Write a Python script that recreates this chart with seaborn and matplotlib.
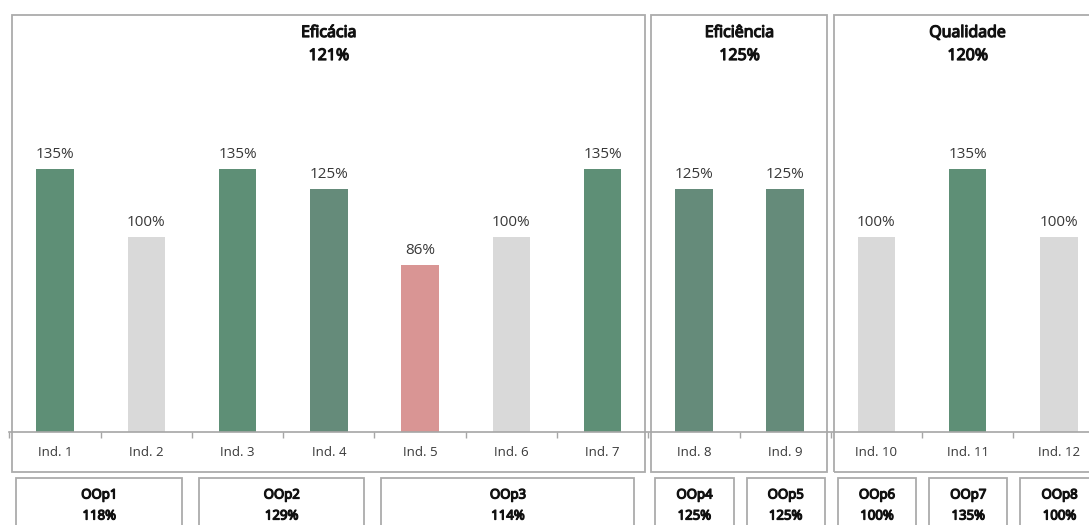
import matplotlib
matplotlib.use("Agg")
import matplotlib.pyplot as plt
import matplotlib.transforms as mtransforms
import matplotlib.patheffects as pe
from matplotlib.patches import Rectangle
import seaborn as sns
import pandas as pd

# Indicator results
indicators = ["Ind. 1", "Ind. 2", "Ind. 3", "Ind. 4", "Ind. 5", "Ind. 6",
              "Ind. 7", "Ind. 8", "Ind. 9", "Ind. 10", "Ind. 11", "Ind. 12"]
results = [135, 100, 135, 125, 86, 100, 135, 125, 125, 100, 135, 100]

# Dimension groups (top panels)
dimension_names = ["Eficácia", "Eficiência", "Qualidade"]
dimension_scores = [121, 125, 120]
dimension_sizes = [7, 2, 3]

# Operational objectives (bottom boxes)
objective_names = ["OOp1", "OOp2", "OOp3", "OOp4", "OOp5", "OOp6", "OOp7", "OOp8"]
objective_scores = [118, 129, 114, 125, 125, 100, 135, 100]
objective_sizes = [2, 2, 3, 1, 1, 1, 1, 1]


def bar_colour(v):
    if v >= 130:
        return "#5e8f76"
    if v > 100:
        return "#658b7a"
    if v == 100:
        return "#d9d9d9"
    return "#d99594"


df = pd.DataFrame({"indicator": indicators, "result": results})
palette = {k: bar_colour(v) for k, v in zip(indicators, results)}

sns.set_theme(style="white")
plt.rcParams["font.family"] = ["Open Sans", "DejaVu Sans"]

# heavy headings: regular face thickened with a same-colour stroke
INK = "#111111"
HEAVY = [pe.withStroke(linewidth=0.9, foreground=INK)]

W, H = 1089, 525
fig = plt.figure(figsize=(W / 100, H / 100), dpi=100)

# axes spans pixel x 9.4 .. 1104.6 (runs past the right edge), y 15 .. 432 from top
ax_left, ax_right = 9.4, 1104.6
ax_top, ax_bottom = 15, 432
ax = fig.add_axes([ax_left / W, (H - ax_bottom) / H,
                   (ax_right - ax_left) / W, (ax_bottom - ax_top) / H])

sns.barplot(data=df, x="indicator", y="result", hue="indicator",
            palette=palette, width=0.41, legend=False, ax=ax, saturation=1,
            linewidth=0)

n = len(indicators)
ax.set_xlim(-0.5, n - 0.5)
ax.set_ylim(0, (ax_bottom - ax_top) / 1.947)
ax.set_xlabel("")
ax.set_ylabel("")
ax.set_yticks([])
for s in ["top", "left", "right"]:
    ax.spines[s].set_visible(False)
ax.spines["bottom"].set_color("#a6a6a6")
ax.spines["bottom"].set_linewidth(1.2)

ax.set_xticks(range(n))
ax.set_xticklabels(indicators, fontsize=9.5, color="#383838")
ax.set_xticks([i - 0.5 for i in range(n + 1)], minor=True)
ax.tick_params(axis="x", which="major", length=0, pad=10)
ax.tick_params(axis="x", which="minor", length=4, width=1, color="#a6a6a6",
               direction="out", bottom=True)

for cont in ax.containers:
    ax.bar_label(cont, labels=[f"{v:.0f}%" for v in cont.datavalues],
                 padding=5, fontsize=11, color="#383838")

trans = mtransforms.blended_transform_factory(ax.transData, ax.transAxes)
hpx = ax_bottom - ax_top


def ay(py):
    return (ax_bottom - py) / hpx


def px2data(p):
    return p * (n / (ax_right - ax_left))


edge = "#ababab"

# Dimension panels
start = 0
for name, score, size in zip(dimension_names, dimension_scores, dimension_sizes):
    x0 = start - 0.5 + px2data(3)
    x1 = start + size - 0.5 - px2data(3.5)
    ax.add_patch(Rectangle((x0, ay(471.5)), x1 - x0, ay(15) - ay(471.5),
                           transform=trans, fill=False, edgecolor=edge,
                           linewidth=1.3, clip_on=False))
    cx = start + size / 2 - 0.5
    ax.text(cx, ay(33), name, transform=trans, ha="center", va="center",
            fontsize=11.5, color=INK, path_effects=HEAVY)
    ax.text(cx, ay(56), f"{score}%", transform=trans, ha="center", va="center",
            fontsize=11.5, color=INK, path_effects=HEAVY)
    start += size

# Operational objective boxes
start = 0
for name, score, size in zip(objective_names, objective_scores, objective_sizes):
    x0 = start - 0.5 + px2data(7)
    x1 = start + size - 0.5 - px2data(6 + 4 * (size - 1))
    ax.add_patch(Rectangle((x0, ay(545)), x1 - x0, ay(478) - ay(545),
                           transform=trans, fill=False, edgecolor=edge,
                           linewidth=1.3, clip_on=False))
    cx = (x0 + x1) / 2
    ax.text(cx, ay(495), name, transform=trans, ha="center", va="center",
            fontsize=9.5, color=INK, path_effects=HEAVY)
    ax.text(cx, ay(516), f"{score}%", transform=trans, ha="center", va="center",
            fontsize=9.5, color=INK, path_effects=HEAVY)
    start += size

fig.savefig("out.png", dpi=100, facecolor="white")
